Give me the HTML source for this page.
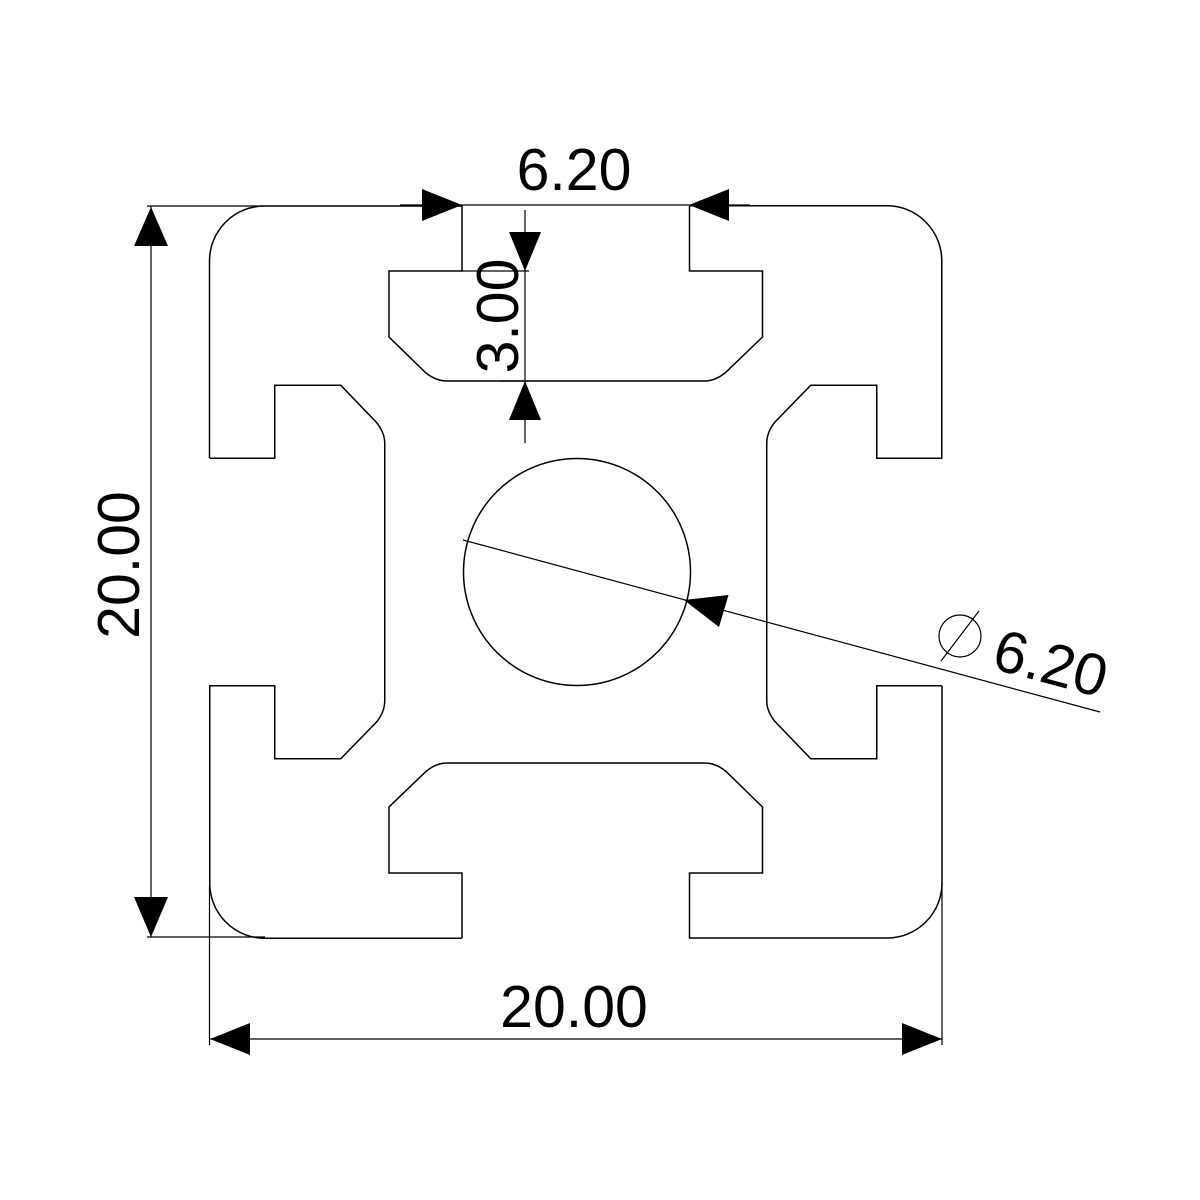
<!DOCTYPE html>
<html><head><style>
html,body{margin:0;padding:0;background:#fff;}
svg{display:block;}
text{font-family:"Liberation Sans",sans-serif;fill:#000;}
</style></head><body>
<svg width="1200" height="1200" viewBox="0 0 1200 1200" xmlns="http://www.w3.org/2000/svg">
<defs>
<path id="seg" d="M209.5,458 L209.5,261 A55,55 0 0 1 264.5,206 L462,206 L462,271 L389,271 L389,337 L426,373 Q436,381 447,381 L704.5,381 Q715,381 725,373 L762.5,337 L762.5,271 L689.5,271 L689.5,206" fill="none" stroke="#000" stroke-width="1.5"/>
</defs>
<g>
<use href="#seg"/>
<use href="#seg" transform="rotate(90 575.75 572)"/>
<use href="#seg" transform="rotate(180 575.75 572)"/>
<use href="#seg" transform="rotate(270 575.75 572)"/>
</g>
<circle cx="577" cy="572" r="113.5" fill="none" stroke="#000" stroke-width="1.5"/>

<g stroke="#000" stroke-width="1.2" fill="none">
<line x1="151" y1="206" x2="151" y2="937"/>
<line x1="147" y1="206" x2="265" y2="206"/>
<line x1="147" y1="937" x2="265" y2="937"/>
<line x1="209.5" y1="885" x2="209.5" y2="1045"/>
<line x1="942" y1="885" x2="942" y2="1045"/>
<line x1="210" y1="1039" x2="942" y2="1039"/>
<line x1="400" y1="205" x2="750" y2="205"/>
<line x1="525" y1="210" x2="525" y2="443"/>
<line x1="462" y1="271" x2="529" y2="271"/>
<line x1="500" y1="381" x2="529" y2="381"/>
<line x1="463" y1="540" x2="1100" y2="712"/>
<circle cx="960" cy="636" r="21"/>
<line x1="941" y1="661" x2="979" y2="611"/>
</g>
<g fill="#000">
<polygon points="151,207 134,246 168,246"/>
<polygon points="151,937 134,897 168,897"/>
<polygon points="210,1039 250,1023 250,1055"/>
<polygon points="942,1039 902,1023 902,1055"/>
<polygon points="462,205 422,189 422,221"/>
<polygon points="689,205 729,189 729,221"/>
<polygon points="525,271 509,232 541,232"/>
<polygon points="525,381 509,420 541,420"/>
<polygon points="684,600 728.5,595 719,627"/>
</g>
<g font-size="59">
<text x="574" y="190" text-anchor="middle">6.20</text>
<text x="574" y="1027" text-anchor="middle">20.00</text>
<text transform="translate(139,565) rotate(-90)" text-anchor="middle">20.00</text>
<text transform="translate(518,316) rotate(-90)" text-anchor="middle">3.00</text>
<text transform="translate(990,668) rotate(15)">6.20</text>
</g>
</svg>
</body></html>
